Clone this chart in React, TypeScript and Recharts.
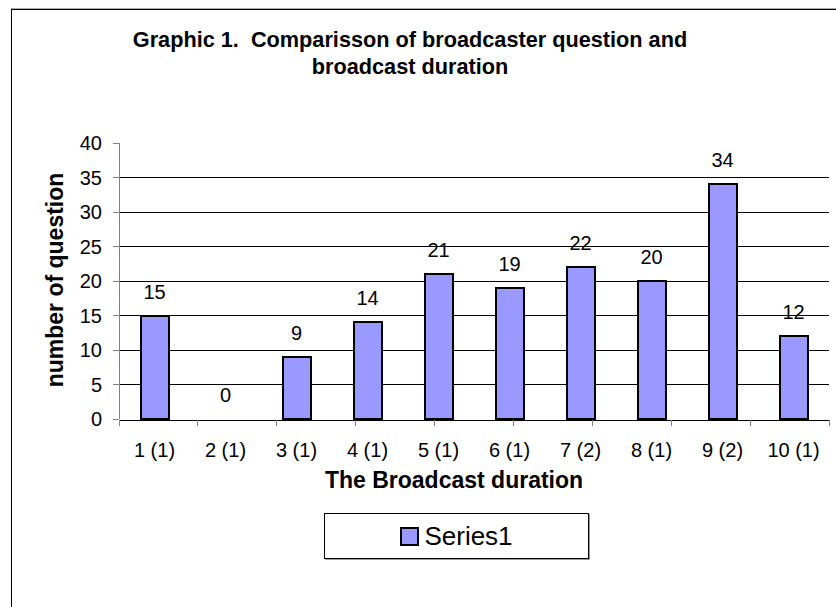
import { ComposedChart, Bar, Line, XAxis, YAxis, CartesianGrid, LabelList, Legend } from "recharts";

// values
const durations = ["1 (1)", "2 (1)", "3 (1)", "4 (1)", "5 (1)", "6 (1)", "7 (2)", "8 (1)", "9 (2)", "10 (1)"];
const questions = [15, 0, 9, 14, 21, 19, 22, 20, 34, 12];
const yTicks = [0, 5, 10, 15, 20, 25, 30, 35, 40];
const gridValues = [5, 10, 15, 20, 25, 30, 35];
// tick marks sit between the categories, like Excel draws them
const categoryEdges = [0, 1, 2, 3, 4, 5, 6, 7, 8, 9, 10];

const data = durations.map((duration, i) => ({ duration, Series1: questions[i] }));

const FONT = '"Liberation Sans", Arial, Helvetica, sans-serif';
const BAR_FILL = "#9999FF";

function XTitle(props: any) {
  const vb = props.viewBox || {};
  return (
    <text
      x={vb.x + vb.width / 2 - 20}
      y={419 + 69}
      textAnchor="middle"
      fontFamily={FONT}
      fontSize={23}
      fontWeight="bold"
      fill="#000"
    >
      The Broadcast duration
    </text>
  );
}

function YTitle(props: any) {
  const vb = props.viewBox || {};
  const cx = vb.x + 55;
  const cy = vb.y + vb.height / 2 - 1;
  return (
    <text
      x={cx}
      y={cy}
      transform={`rotate(-90 ${cx} ${cy})`}
      textAnchor="middle"
      dominantBaseline="central"
      fontFamily={FONT}
      fontSize={23}
      fontWeight="bold"
      fill="#000"
    >
      number of question
    </text>
  );
}

function LegendBox(props: any) {
  const items = (props.payload || []).filter((p: any) => p.type !== "none");
  const item = items[0] || { value: "Series1" };
  return (
    <div
      style={{
        width: 265,
        height: 46,
        boxSizing: "border-box",
        border: "1px solid #000",
        boxShadow: "1px 1px 0 #999",
        background: "#fff",
        display: "flex",
        alignItems: "center",
        justifyContent: "center",
        fontFamily: FONT,
        fontSize: 26,
        color: "#000",
      }}
    >
      <span
        style={{
          display: "inline-block",
          width: 19,
          height: 19,
          boxSizing: "border-box",
          background: BAR_FILL,
          border: "2px solid #000",
          marginRight: 5,
        }}
      />
      <span>{item.value}</span>
    </div>
  );
}

export default function App() {
  return (
    <div
      style={{
        position: "absolute",
        left: 0,
        top: 0,
        width: 836,
        height: 607,
        overflow: "hidden",
        background: "#fff",
        fontFamily: FONT,
      }}
    >
      <div
        style={{
          position: "absolute",
          left: 11,
          top: 9,
          width: 900,
          height: 700,
          borderLeft: "1px solid #000",
          borderTop: "1px solid #000",
          boxShadow: "0 -1px 0 #aaa",
        }}
      />
      <div
        style={{
          position: "absolute",
          left: 110,
          top: 26,
          width: 600,
          textAlign: "center",
          fontSize: 21.7,
          lineHeight: "27px",
          fontWeight: "bold",
          whiteSpace: "pre",
          color: "#000",
        }}
      >
        {"Graphic 1.  Comparisson of broadcaster question and\nbroadcast duration"}
      </div>
      <ComposedChart
        width={836}
        height={607}
        data={data}
        margin={{ top: 143, right: 7, bottom: 186, left: 0 }}
        barSize={28}
        style={{ position: "absolute", left: 0, top: 0, shapeRendering: "crispEdges" }}
      >
        <CartesianGrid
          horizontal
          vertical={false}
          horizontalValues={gridValues}
          stroke="#000"
          strokeWidth={1}
          yAxisId="q"
          xAxisId="cat"
        />
        <XAxis
          xAxisId="edges"
          type="number"
          domain={[0, 10]}
          ticks={categoryEdges}
          allowDataOverflow
          height={1}
          tickSize={6}
          tickFormatter={() => ""}
          axisLine={{ stroke: "#000" }}
          tickLine={{ stroke: "#808080" }}
        />
        <XAxis
          xAxisId="cat"
          dataKey="duration"
          height={1}
          interval={0}
          axisLine={false}
          tickLine={false}
          tickSize={6}
          tickMargin={18}
          tick={{ fill: "#000", fontSize: 20, fontFamily: FONT }}
          label={{ content: XTitle }}
        />
        <YAxis
          yAxisId="q"
          width={119}
          domain={[0, 40]}
          ticks={yTicks}
          interval={0}
          tickSize={6}
          tickMargin={11}
          axisLine={{ stroke: "#808080" }}
          tickLine={{ stroke: "#808080" }}
          tick={{ fill: "#000", fontSize: 20, fontFamily: FONT }}
          label={{ content: YTitle }}
        />
        <Legend
          layout="vertical"
          align="center"
          verticalAlign="middle"
          content={LegendBox}
          wrapperStyle={{ left: 324, top: 513, width: 265, height: 46 }}
        />
        <Bar
          xAxisId="cat"
          yAxisId="q"
          dataKey="Series1"
          name="Series1"
          fill={BAR_FILL}
          stroke="#000"
          strokeWidth={2}
          isAnimationActive={false}
        />
        {/* invisible line only carries the value labels, so the 0 gets one too */}
        <Line
          xAxisId="cat"
          yAxisId="q"
          dataKey="Series1"
          name="labels"
          stroke="none"
          dot={false}
          activeDot={false}
          legendType="none"
          isAnimationActive={false}
        >
          <LabelList
            dataKey="Series1"
            position="top"
            offset={17}
            fill="#000"
            fontSize={20}
            fontFamily={FONT}
          />
        </Line>
      </ComposedChart>
    </div>
  );
}
